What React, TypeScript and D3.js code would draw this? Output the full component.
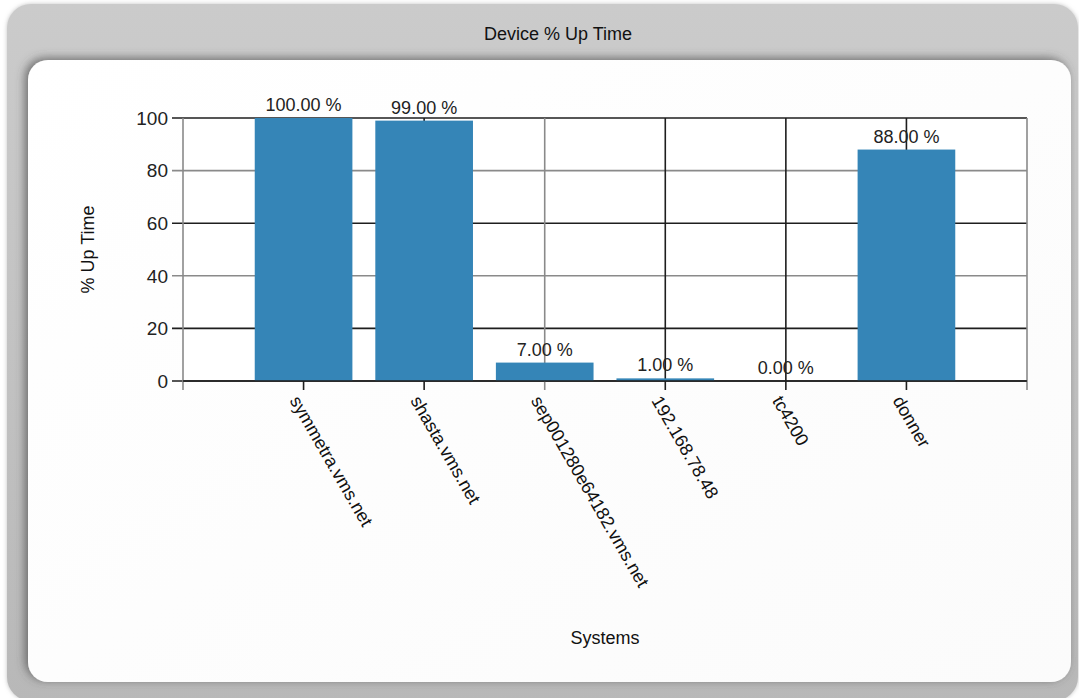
import React from "react";
import * as d3 from "d3";

const categories = [
  "symmetra.vms.net",
  "shasta.vms.net",
  "sep001280e64182.vms.net",
  "192.168.78.48",
  "tc4200",
  "donner",
];
const upTime = [100, 99, 7, 1, 0, 88];
const yTicks = [0, 20, 40, 60, 80, 100];
const chartTitle = "Device % Up Time";
const yTitle = "% Up Time";
const xTitle = "Systems";

const W = 1079;
const H = 698;
const plot = { left: 183, right: 1027, top: 118, bottom: 381 };
const FONT = "'Liberation Sans', Arial, sans-serif";
const BAR = "#3585b7";

export default function App() {
  const x = d3
    .scalePoint<string>()
    .domain(categories)
    .range([plot.left, plot.right])
    .padding(1);
  const y = d3.scaleLinear().domain([0, 100]).range([plot.bottom, plot.top]);
  const step = x.step();
  const bw = step * 0.81;
  const fmt = (v: number) => d3.format(".2f")(v) + " %";

  const dark = "#1e1e1e";
  const gray = "#8a8a8a";
  const hStyle = (i: number) => (i === 2 || i === 4 ? gray : dark);
  const vStyle = (i: number) => (i === 2 ? gray : dark);

  return (
    <svg
      width={W}
      height={H}
      style={{ position: "fixed", left: 0, top: 0, display: "block" }}
    >
      <defs>
        <linearGradient id="frameGrad" x1="0" y1="0" x2="0" y2="1">
          <stop offset="0" stopColor="#cbcbcb" />
          <stop offset="0.5" stopColor="#c2c2c2" />
          <stop offset="1" stopColor="#b8b8b8" />
        </linearGradient>
        <linearGradient id="panelGrad" x1="0" y1="0" x2="1" y2="1">
          <stop offset="0" stopColor="#ffffff" />
          <stop offset="1" stopColor="#fbfbfb" />
        </linearGradient>
        <filter id="panelShadow" x="-5%" y="-5%" width="110%" height="110%">
          <feDropShadow dx="-3" dy="-2" stdDeviation="5" floodColor="#444" floodOpacity="0.7" />
        </filter>
        <filter id="frameShadow" x="-5%" y="-5%" width="110%" height="110%">
          <feDropShadow dx="0" dy="0" stdDeviation="2" floodColor="#999" floodOpacity="0.6" />
        </filter>
      </defs>

      <rect x={0} y={0} width={W} height={H} fill="#ffffff" />
      <rect
        x={7}
        y={4}
        width={1071}
        height={697}
        rx={24}
        fill="url(#frameGrad)"
        filter="url(#frameShadow)"
      />
      <rect
        x={28}
        y={60}
        width={1043}
        height={622}
        rx={20}
        fill="url(#panelGrad)"
        filter="url(#panelShadow)"
      />

      <text
        x={558}
        y={40}
        textAnchor="middle"
        fontFamily={FONT}
        fontSize={18}
        fill="#111"
      >
        {chartTitle}
      </text>

      {/* plot background */}
      <rect
        x={plot.left}
        y={plot.top}
        width={plot.right - plot.left}
        height={plot.bottom - plot.top}
        fill="#ffffff"
      />

      {/* horizontal gridlines + y ticks */}
      {yTicks.map((t, i) => (
        <g key={"h" + t}>
          <line
            x1={plot.left - 11}
            x2={plot.right}
            y1={y(t)}
            y2={y(t)}
            stroke={hStyle(i)}
            strokeWidth={1.6}
          />
          <text
            x={plot.left - 15}
            y={y(t)}
            dy="0.36em"
            textAnchor="end"
            fontFamily={FONT}
            fontSize={19}
            fill="#222"
          >
            {t}
          </text>
        </g>
      ))}

      {/* vertical gridlines + x ticks */}
      <line x1={plot.left} x2={plot.left} y1={plot.top} y2={plot.bottom + 9} stroke={gray} strokeWidth={1.6} />
      <line x1={plot.right} x2={plot.right} y1={plot.top} y2={plot.bottom + 9} stroke={gray} strokeWidth={1.6} />
      {categories.map((c, i) => (
        <line
          key={"v" + c}
          x1={x(c)!}
          x2={x(c)!}
          y1={plot.top}
          y2={plot.bottom + 9}
          stroke={vStyle(i)}
          strokeWidth={1.6}
        />
      ))}

      {/* bars */}
      {categories.map((c, i) => (
        <rect
          key={"b" + c}
          x={x(c)! - bw / 2}
          y={y(upTime[i])}
          width={bw}
          height={plot.bottom - y(upTime[i])}
          fill={BAR}
        />
      ))}

      {/* bottom axis line */}
      <line x1={plot.left} x2={plot.right} y1={plot.bottom} y2={plot.bottom} stroke={dark} strokeWidth={1.6} />

      {/* value labels */}
      {categories.map((c, i) => (
        <text
          key={"l" + c}
          x={x(c)!}
          y={y(upTime[i]) - 7}
          textAnchor="middle"
          fontFamily={FONT}
          fontSize={18}
          fill="#222"
        >
          {fmt(upTime[i])}
        </text>
      ))}

      {/* category labels */}
      {categories.map((c) => (
        <text
          key={"c" + c}
          transform={`translate(${x(c)! - 3},${plot.bottom + 13}) rotate(60)`}
          dy="0.72em"
          textAnchor="start"
          fontFamily={FONT}
          fontSize={18}
          fill="#111"
        >
          {c}
        </text>
      ))}

      {/* axis titles */}
      <text
        transform={`translate(94,${(plot.top + plot.bottom) / 2}) rotate(-90)`}
        textAnchor="middle"
        fontFamily={FONT}
        fontSize={18}
        fill="#111"
      >
        {yTitle}
      </text>
      <text
        x={605}
        y={644}
        textAnchor="middle"
        fontFamily={FONT}
        fontSize={18}
        fill="#111"
      >
        {xTitle}
      </text>
    </svg>
  );
}
